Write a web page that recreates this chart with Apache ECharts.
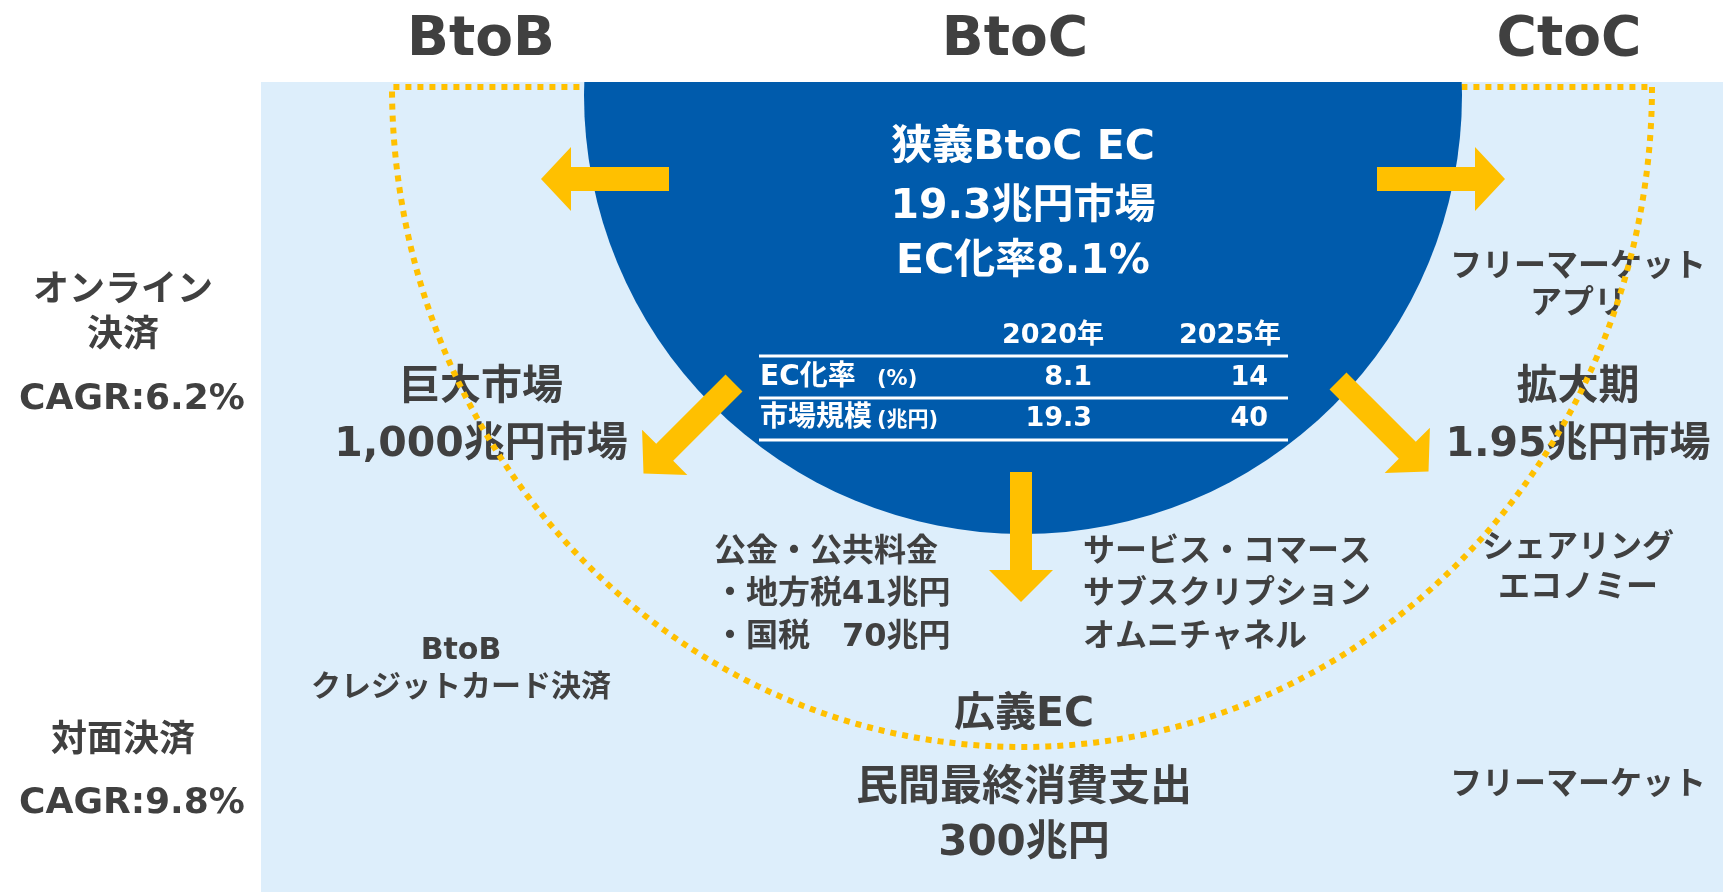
<!DOCTYPE html>
<html><head><meta charset="utf-8">
<script src="https://cdn.jsdelivr.net/npm/echarts@6/dist/echarts.min.js"></script>
<style>html,body{margin:0;padding:0;background:#fff}#c{width:1723px;height:892px}</style>
</head><body><div id="c"></div>
<script>
// ---- content ----
const segments = ['BtoB', 'BtoC', 'CtoC'];
const onlineLabel = ['オンライン', '決済'];
const faceLabel = ['対面決済'];
const cagrLabels = ['CAGR:6.2%', 'CAGR:9.8%'];
const narrowEcLines = ['狭義BtoC EC', '19.3兆円市場', 'EC化率8.1%'];
const tableYears = ['2020年', '2025年'];
const tableRowLabels = ['EC化率', '市場規模'];
const tableRowUnits = ['(%)', '(兆円)'];
const ecRate = [8.1, 14];
const marketSize = [19.3, 40];
const btobLines = ['巨大市場', '1,000兆円市場'];
const ctocLines = ['拡大期', '1.95兆円市場'];
const ctocAppLines = ['フリーマーケット', 'アプリ'];
const sharingLines = ['シェアリング', 'エコノミー'];
const ctocFleaLines = ['フリーマーケット'];
const publicLines = ['公金・公共料金', '・地方税41兆円', '・国税　70兆円'];
const serviceLines = ['サービス・コマース', 'サブスクリプション', 'オムニチャネル'];
const btobCardLines = ['BtoB', 'クレジットカード決済'];
const broadEcLines = ['広義EC'];
const consumptionLines = ['民間最終消費支出', '300兆円'];

// ---- styling ----
const FF = '"DejaVu Sans","Noto Sans CJK JP",sans-serif';
const GRAY = '#404040';
const DARK = '#005BAC';
const LIGHT = '#DDEEFB';
const YELLOW = '#FFC000';

const els = [];
let z = 0;
function txt(s, x, y, size, color, align) {
  els.push({
    type: 'text', x: x, y: y, z: ++z,
    style: {
      text: s, fill: color || GRAY, fontSize: size, fontWeight: 'bold', fontFamily: FF,
      align: align || 'center', verticalAlign: 'middle',
      textAlign: align || 'center', textVerticalAlign: 'middle'
    }
  });
}
function lines(arr, x, ys, size, color, align) {
  arr.forEach((s, i) => txt(s, x, ys[i], size, color, align));
}
function arrow(tx, ty, dx, dy, len, head, sh, hh) {
  const nx = -dy, ny = dx;
  const bx = tx + dx * (len - head), by = ty + dy * (len - head);
  return [
    [tx + nx * sh, ty + ny * sh], [bx + nx * sh, by + ny * sh], [bx + nx * hh, by + ny * hh],
    [tx + dx * len, ty + dy * len],
    [bx - nx * hh, by - ny * hh], [bx - nx * sh, by - ny * sh], [tx - nx * sh, ty - ny * sh]
  ];
}

// background panel
els.push({ type: 'rect', z: ++z, shape: { x: 261, y: 82, width: 1462, height: 810 }, style: { fill: LIGHT } });

// text on light area (below the dotted line)
lines(onlineLabel, 123, [292, 337], 36);
txt(cagrLabels[0], 132, 400, 36);
lines(faceLabel, 123, [742], 36);
txt(cagrLabels[1], 132, 804, 36);
lines(btobLines, 481, [388, 445], 41);
lines(ctocLines, 1578, [388, 445], 41);
lines(ctocAppLines, 1578, [268, 305], 32);
lines(sharingLines, 1578, [549, 589], 32);
lines(ctocFleaLines, 1578, [786], 32);
lines(publicLines, 714, [553, 595, 638], 32, GRAY, 'left');
lines(serviceLines, 1083, [553, 595, 638], 32, GRAY, 'left');
lines(btobCardLines, 461, [651, 688], 30);
lines(broadEcLines, 1024, [715], 41);
lines(consumptionLines, 1024, [789, 844], 42);

// dotted boundary of broad EC (half ellipse + top edge)
(function () {
  const cx = 1022, cy = 87, rx = 630, ry = 660, pts = [];
  for (let i = 0; i <= 240; i++) {
    const t = Math.PI * i / 240;
    pts.push([cx + rx * Math.cos(t), cy + ry * Math.sin(t)]);
  }
  pts.push([cx + rx, cy]);
  els.push({ type: 'polyline', z: ++z, shape: { points: pts },
    style: { fill: null, stroke: YELLOW, lineWidth: 6, lineDash: [6, 6] } });
})();

// narrow BtoC EC circle
els.push({ type: 'circle', z: ++z, shape: { cx: 1023, cy: 95, r: 439 }, style: { fill: DARK } });
// white title band
els.push({ type: 'rect', z: ++z, shape: { x: 0, y: 0, width: 1723, height: 82 }, style: { fill: '#fff' } });

// segment titles
[481, 1015, 1569].forEach((x, i) => txt(segments[i], x, 41, 55));

// circle text
lines(narrowEcLines, 1023, [148, 207, 262], 41, '#fff');

// table
tableYears.forEach((s, i) => txt(s, [1053, 1230][i], 336, 27, '#fff'));
[356, 398, 440].forEach(y => els.push({ type: 'line', z: ++z,
  shape: { x1: 759, y1: y, x2: 1288, y2: y }, style: { stroke: '#fff', lineWidth: 3 } }));
const rowY = [378, 419];
const rowVals = [ecRate, marketSize];
tableRowLabels.forEach((s, i) => {
  txt(s, 760, rowY[i], 28, '#fff', 'left');
  txt(tableRowUnits[i], 877, rowY[i] + 2, 21, '#fff', 'left');
  txt(String(rowVals[i][0]), 1092, rowY[i], 27, '#fff', 'right');
  txt(String(rowVals[i][1]), 1268, rowY[i], 27, '#fff', 'right');
});

// arrows
const S = Math.SQRT1_2;
[
  arrow(669, 179, -1, 0, 128, 30, 12, 32),
  arrow(1377, 179, 1, 0, 128, 30, 12, 32),
  arrow(1021, 472, 0, 1, 130, 32, 11, 32),
  arrow(734, 383, -S, S, 128, 30, 12, 32),
  arrow(1338, 381, S, S, 128, 30, 12, 32)
].forEach(p => els.push({ type: 'polygon', z: ++z, shape: { points: p }, style: { fill: YELLOW } }));

const chart = echarts.init(document.getElementById('c'), null, { renderer: 'canvas' });
chart.setOption({ backgroundColor: '#fff', animation: false, graphic: { elements: els } });
</script></body></html>
